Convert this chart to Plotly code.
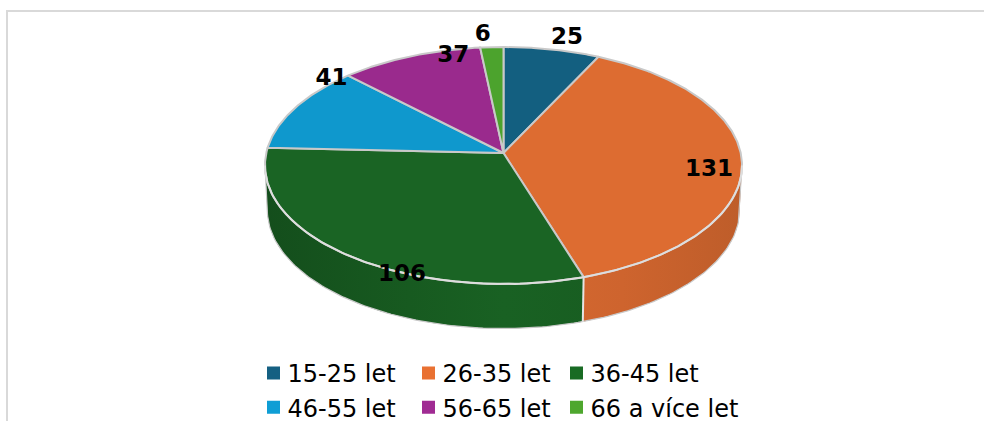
import math
import plotly.graph_objects as go

categories = ["15-25 let", "26-35 let", "36-45 let", "46-55 let", "56-65 let", "66 a více let"]
values = [25, 131, 106, 41, 37, 6]
legend_colors = ["#156082", "#E97132", "#196B24", "#0F9ED5", "#A02B93", "#4EA72E"]
top_colors = ["#135F80", "#DD6C31", "#1A6424", "#0F98CD", "#9A2A8D", "#4CA32D"]

# Projection of the tilted disc onto the page (pixels)
CX, CY, RX, RY, K = 503.5, 153.0, 237.2, 117.2, 0.1055
DEPTH, BOTTOM_SCALE = 44.5, 0.99
EDGE = "#C9C9C9"
# Label nudges from the rim point at each slice's mid-angle
NUDGE = [(15, -11.5), (-33, 8.5), (56, 21), (36, -28), (43, 0), (-9, -12)]
LEGEND_X = [253.5, 408.5, 556.5]
LEGEND_Y = 351


def top(a):
    t = math.radians(a)
    w = 1 + K * math.cos(t)
    return CX + RX * math.sin(t) / w, CY - RY * math.cos(t) / w


def bottom(a):
    x, y = top(a)
    return CX + (x - CX) * BOTTOM_SCALE, y + DEPTH


def shade(hex_color, f):
    r, g, b = (int(hex_color[i:i + 2], 16) for i in (1, 3, 5))
    return f"rgb({r * f:.0f},{g * f:.0f},{b * f:.0f})"


def arc(a0, a1, fn, step=1.0):
    n = max(2, int(abs(a1 - a0) / step) + 1)
    return [fn(a0 + (a1 - a0) * i / (n - 1)) for i in range(n)]


total = sum(values)
edges = [0.0]
for v in values:
    edges.append(edges[-1] + v / total * 360)

VIS0 = math.degrees(math.acos(-K))
VIS1 = 360 - VIS0

fig = go.Figure()

# Side wall, one gradient-filled polygon per slice
LEFT, RIGHT = CX - RX, CX + RX
for i, color in enumerate(top_colors):
    a0, a1 = max(edges[i], VIS0), min(edges[i + 1], VIS1)
    if a0 >= a1:
        continue
    pts = arc(a0, a1, top, 0.5) + arc(a1, a0, bottom, 0.5)
    pts.append(pts[0])
    scale = [[0.0, shade(color, 0.78)], [0.3, shade(color, 0.9)], [0.5, shade(color, 0.97)],
             [0.75, shade(color, 0.93)], [1.0, shade(color, 0.86)]]
    fig.add_trace(go.Scatter(x=[p[0] for p in pts], y=[p[1] for p in pts], mode="lines",
                             fill="toself", line=dict(width=0),
                             fillgradient=dict(type="horizontal", start=LEFT, stop=RIGHT, colorscale=scale),
                             hoverinfo="skip", showlegend=False))

# Side silhouette
sil = [top(VIS0)] + arc(VIS0, VIS1, bottom, 1.0) + [top(VIS1)]
fig.add_trace(go.Scatter(x=[p[0] for p in sil], y=[p[1] for p in sil], mode="lines",
                         line=dict(color=EDGE, width=1.2), hoverinfo="skip", showlegend=False))

# Separators on the wall
for e in edges[1:-1]:
    if VIS0 < e < VIS1:
        p, q = top(e), bottom(e)
        fig.add_trace(go.Scatter(x=[p[0], q[0]], y=[p[1], q[1]], mode="lines",
                                 line=dict(color="#E4E4E4", width=2), hoverinfo="skip", showlegend=False))

# Top faces
for i, (cat, color) in enumerate(zip(categories, top_colors)):
    pts = [(CX, CY)] + arc(edges[i], edges[i + 1], top, 0.5) + [(CX, CY)]
    fig.add_trace(go.Scatter(x=[p[0] for p in pts], y=[p[1] for p in pts], mode="lines",
                             fill="toself", fillcolor=color, line=dict(color=EDGE, width=2),
                             name=cat, hoverinfo="name", showlegend=False))

# Lighter rim where the top face meets the wall
rim = arc(VIS0, VIS1, top, 1.0)
fig.add_trace(go.Scatter(x=[p[0] for p in rim], y=[p[1] for p in rim], mode="lines",
                         line=dict(color="#DEDEDE", width=2), hoverinfo="skip", showlegend=False))

# Value labels
lx, ly = [], []
for i, (dx, dy) in enumerate(NUDGE):
    x, y = top((edges[i] + edges[i + 1]) / 2)
    lx.append(x + dx)
    ly.append(y + dy)
fig.add_trace(go.Scatter(x=lx, y=ly, mode="text", text=[str(v) for v in values],
                         textposition="middle center",
                         textfont=dict(family="DejaVu Sans", size=23, color="#000000", weight=700),
                         hoverinfo="skip", showlegend=False))

# Legend: three columns of two rows
layout_legends = {}
for col in range(3):
    key = "legend" if col == 0 else f"legend{col + 1}"
    layout_legends[key] = dict(x=LEGEND_X[col] / 984, y=1 - LEGEND_Y / 421, xanchor="left", yanchor="top",
                               orientation="v", bgcolor="rgba(0,0,0,0)", borderwidth=0, itemclick=False,
                               traceorder="normal", itemdoubleclick=False, indentation=-6,
                               font=dict(family="DejaVu Sans", size=24, color="#000000"))
    for row in range(2):
        i = row * 3 + col
        fig.add_trace(go.Scatter(x=[None], y=[None], mode="markers", name=categories[i],
                                 marker=dict(symbol="square", size=13, color=legend_colors[i], line=dict(width=0)),
                                 legend=key, showlegend=True))

fig.update_layout(
    width=984, height=421, autosize=False,
    margin=dict(l=0, r=0, t=0, b=0, autoexpand=False),
    paper_bgcolor="#FFFFFF", plot_bgcolor="#FFFFFF",
    xaxis=dict(range=[0, 984], visible=False, fixedrange=True),
    yaxis=dict(range=[421, 0], visible=False, fixedrange=True),
    shapes=[dict(type="path", path="M 7 421 L 7 11 L 984 11", xref="x", yref="y",
                 line=dict(color="#D9D9D9", width=2), layer="below")],
    **layout_legends,
)
fig.write_html("out.html", config={"displayModeBar": False},
               post_script="document.body.style.margin='0';document.body.style.overflow='hidden';"
                           "document.querySelectorAll('.legendpoints').forEach(function(e){"
                           "e.setAttribute('transform','translate(6,0)');});")
